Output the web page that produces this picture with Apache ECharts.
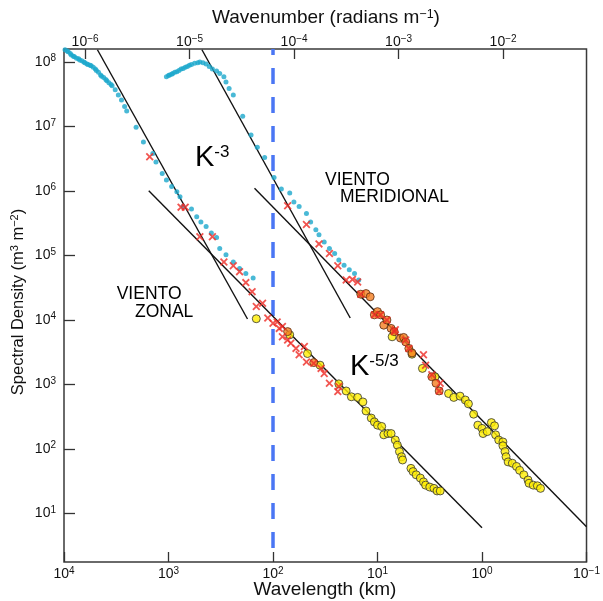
<!DOCTYPE html>
<html>
<head>
<meta charset="utf-8">
<script src="https://cdn.jsdelivr.net/npm/echarts@6/dist/echarts.min.js"></script>
<style>
  html, body { margin: 0; padding: 0; background: #fff; }
  #chart { width: 603px; height: 601px; }
</style>
</head>
<body>
<div id="chart"></div>
<script>
// Horizontal wind spectra. Both coordinates are kept as base-10 exponents:
// wavelength in km, spectral density in m^3 m^-2.

// Zonal wind, large scales (cyan dots)
const zonalDotsLogLambda = [3.99,3.97,3.96,3.94,3.93,3.91,3.90,3.88,3.86,3.85,3.83,3.81,3.80,3.78,3.77,3.75,3.74,3.72,3.70,3.69,3.67,3.65,3.64,3.62,3.60,3.59,3.57,3.55,3.54,3.51,3.48,3.45,3.42,3.40,3.31,3.24,3.15,3.12,3.06,3.02,2.97,2.92,2.89,2.86,2.78,2.73,2.69,2.64,2.59,2.54,2.51,2.45,2.38,2.32,2.26,2.19];
const zonalDotsLogDensity = [8.19,8.17,8.16,8.13,8.11,8.09,8.08,8.06,8.05,8.03,8.02,8.00,7.99,7.97,7.96,7.95,7.94,7.92,7.89,7.87,7.84,7.80,7.78,7.76,7.73,7.71,7.68,7.65,7.63,7.57,7.49,7.41,7.31,7.24,6.99,6.76,6.58,6.45,6.27,6.17,6.07,5.99,5.91,5.76,5.72,5.60,5.52,5.45,5.35,5.28,5.11,5.01,4.90,4.80,4.72,4.65];

// Zonal wind, crosses
const zonalCrossLogLambda = [3.18,2.88,2.84,2.70,2.58,2.47,2.38,2.32,2.26,2.20,2.16,2.10,2.05,2.00,1.96,1.94,1.91,1.91,1.86,1.83,1.78,1.75,1.70,1.68,1.61,1.54,1.51,1.46,1.38,1.37];
const zonalCrossLogDensity = [6.53,5.75,5.75,5.29,5.29,4.90,4.84,4.75,4.58,4.44,4.21,4.26,4.03,3.95,3.97,3.87,3.90,3.74,3.69,3.64,3.56,3.46,3.59,3.35,3.33,3.25,3.17,3.02,2.89,2.97];

// Zonal wind, circles
const zonalCircleLogLambda = [2.16,1.84,1.67,1.55,1.37,1.30,1.25,1.19,1.14,1.11,1.06,1.03,1.00,0.96,0.94,0.90,0.87,0.83,0.81,0.79,0.77,0.76,0.68,0.66,0.63,0.59,0.56,0.54,0.50,0.46,0.43,0.40];
const zonalCircleLogDensity = [4.02,3.77,3.48,3.30,3.01,2.90,2.81,2.80,2.73,2.59,2.48,2.42,2.37,2.35,2.22,2.24,2.24,2.14,2.06,1.96,1.88,1.83,1.70,1.65,1.60,1.55,1.49,1.44,1.41,1.39,1.35,1.35];
const zonalOrangeLogLambda = [1.86,1.61];
const zonalOrangeLogDensity = [3.82,3.34];

// Meridional wind, large scales (cyan dots)
const meridDotsLogLambda = [3.02,3.00,2.99,2.97,2.96,2.94,2.92,2.90,2.88,2.86,2.84,2.82,2.80,2.78,2.75,2.72,2.70,2.67,2.64,2.61,2.58,2.54,2.51,2.47,2.45,2.42,2.38,2.29,2.21,2.15,2.08,1.99,1.92,1.84,1.80,1.75,1.68,1.64,1.59,1.56,1.51,1.46,1.41,1.37,1.32,1.27,1.22,1.18];
const meridDotsLogDensity = [7.77,7.79,7.80,7.81,7.82,7.84,7.85,7.87,7.89,7.90,7.92,7.93,7.95,7.96,7.98,7.99,8.00,7.99,7.97,7.93,7.89,7.86,7.82,7.77,7.69,7.59,7.49,7.16,6.87,6.68,6.52,6.21,6.03,5.97,5.83,5.76,5.65,5.52,5.40,5.32,5.21,5.11,5.03,4.93,4.85,4.78,4.72,4.62];

// Meridional wind, crosses
const meridCrossLogLambda = [1.86,1.68,1.56,1.46,1.38,1.30,1.24,1.19,1.16,1.03,0.97,0.91,0.84,0.83,0.73,0.70,0.56,0.54,0.48,0.40,0.41];
const meridCrossLogDensity = [5.77,5.48,5.18,5.03,4.84,4.62,4.63,4.59,4.40,4.08,4.08,4.00,3.82,3.85,3.69,3.56,3.46,3.30,3.15,3.02,2.90];

// Meridional wind, orange circles
const meridOrangeLogLambda = [1.16,1.11,1.07,1.03,1.00,0.97,0.94,0.91,0.87,0.84,0.78,0.75,0.73,0.70,0.67,0.48,0.44,0.41];
const meridOrangeLogDensity = [4.40,4.41,4.36,4.08,4.13,4.08,3.92,4.00,3.87,3.82,3.72,3.73,3.66,3.56,3.49,3.12,3.02,2.90];

// Meridional wind, yellow circles
const meridCircleLogLambda = [0.86,0.67,0.57,0.45,0.32,0.27,0.21,0.16,0.13,0.08,0.04,0.00,-0.01,-0.05,-0.09,-0.12,-0.13,-0.16,-0.20,-0.20,-0.22,-0.23,-0.25,-0.29,-0.33,-0.36,-0.40,-0.44,-0.45,-0.49,-0.53,-0.56];
const meridCircleLogDensity = [3.74,3.47,3.25,3.12,2.86,2.80,2.82,2.76,2.70,2.54,2.37,2.32,2.24,2.27,2.41,2.36,2.22,2.14,2.11,2.05,1.96,1.88,1.80,1.78,1.73,1.67,1.60,1.52,1.47,1.44,1.43,1.39];

// Reference power laws: [logLambda, logDensity] at each end
const zonalK3 = [[3.68, 8.19], [2.244, 4.016]];
const zonalK53 = [[3.189, 6.005], [0, 0.78]];
const meridK3 = [[2.68, 8.19], [1.261, 4.031]];
const meridK53 = [[2.177, 6.042], [-1, 0.795]];

// 100 km divider
const dividerLogLambda = 2;

// Axis tick exponents
const wavenumberTicks = [-6, -5, -4, -3, -2];
const densityTicks = [1, 2, 3, 4, 5, 6, 7, 8];

const lambdaRange = [-1, 4];
const densityRange = [0.2484, 8.2016];

const zip = (a, b) => a.map((v, i) => [v, b[i]]);
// wavenumber (rad/m) = 2*pi / wavelength(m)
const kExp = (lamExp) => Math.log10(2 * Math.PI / (Math.pow(10, lamExp) * 1000));

const FONT = 'Liberation Sans, Arial, Helvetica, sans-serif';
const expText = (v) => {
  const n = Math.round(v);
  return '{b|10}{s|' + (n < 0 ? '\u2212' + (-n) : n) + '}';
};
const tickRich = {
  b: { fontSize: 14, fontFamily: FONT, color: '#111' },
  s: { fontSize: 10, fontFamily: FONT, color: '#111', verticalAlign: 'top', padding: [0, 0, 7, 0] }
};
const tickStyle = { color: '#333', width: 1.3 };
const noLine = { show: false, onZero: false };

const crossPath = 'path://M0,1.6L1.6,0L5,3.4L8.4,0L10,1.6L6.6,5L10,8.4L8.4,10L5,6.6L1.6,10L0,8.4L3.4,5Z';

const chart = echarts.init(document.getElementById('chart'), null, { renderer: 'canvas' });

const lineSeries = (data) => ({
  type: 'line', data, symbol: 'none', silent: true, z: 2,
  lineStyle: { color: '#111', width: 1.4 }
});

chart.setOption({
  animation: false,
  backgroundColor: '#fff',
  grid: { left: 64, top: 49, width: 524, height: 513, show: true, borderColor: '#3a3a3a', borderWidth: 1.5 },
  xAxis: [
    {
      type: 'value', position: 'bottom', min: lambdaRange[0], max: lambdaRange[1], interval: 1, inverse: true,
      axisLine: noLine, splitLine: { show: false },
      axisTick: { inside: true, length: 10, lineStyle: tickStyle },
      axisLabel: { formatter: expText, rich: tickRich, margin: 4 }
    },
    {
      type: 'value', position: 'top', min: kExp(lambdaRange[1]), max: kExp(lambdaRange[0]),
      axisLine: noLine, splitLine: { show: false },
      axisTick: { inside: true, length: 10, lineStyle: tickStyle, customValues: wavenumberTicks },
      axisLabel: { formatter: expText, rich: tickRich, margin: -2, customValues: wavenumberTicks }
    }
  ],
  yAxis: {
    type: 'value', position: 'left', min: densityRange[0], max: densityRange[1],
    axisLine: noLine, splitLine: { show: false },
    axisTick: { inside: true, length: 11, lineStyle: tickStyle, customValues: densityTicks },
    axisLabel: { formatter: expText, rich: tickRich, margin: 8, customValues: densityTicks }
  },
  series: [
    lineSeries(zonalK3), lineSeries(zonalK53), lineSeries(meridK3), lineSeries(meridK53),
    {
      type: 'line', silent: true, symbol: 'none', z: 1,
      data: [[dividerLogLambda, densityRange[1]], [dividerLogLambda, 0.403]],
      lineStyle: { color: '#4a76f4', width: 3.5, type: [16, 13], dashOffset: 10 }
    },
    {
      type: 'scatter', silent: true, z: 3, symbol: 'circle', symbolSize: 5,
      itemStyle: { color: '#1ca8cc' },
      data: zip(zonalDotsLogLambda, zonalDotsLogDensity).concat(zip(meridDotsLogLambda, meridDotsLogDensity))
    },
    {
      type: 'scatter', silent: true, z: 4, symbol: 'circle', symbolSize: 8,
      itemStyle: { color: '#ffee00', borderColor: '#333', borderWidth: 1 },
      data: zip(zonalCircleLogLambda, zonalCircleLogDensity).concat(zip(meridCircleLogLambda, meridCircleLogDensity))
    },
    {
      type: 'scatter', silent: true, z: 5, symbol: 'circle', symbolSize: 8,
      itemStyle: { color: '#f47e20', borderColor: '#5a2a10', borderWidth: 1 },
      data: zip(zonalOrangeLogLambda, zonalOrangeLogDensity).concat(zip(meridOrangeLogLambda, meridOrangeLogDensity))
    },
    {
      type: 'scatter', silent: true, z: 6, symbol: crossPath, symbolSize: 8,
      itemStyle: { color: '#ee2b24' },
      data: zip(zonalCrossLogLambda, zonalCrossLogDensity).concat(zip(meridCrossLogLambda, meridCrossLogDensity))
    }
  ],
  graphic: [
    {
      type: 'text', x: 326, y: 18,
      style: {
        text: '{t|Wavenumber (radians m}{s|\u22121}{t|)}', textAlign: 'center', textVerticalAlign: 'middle',
        rich: {
          t: { fontSize: 19, fontFamily: FONT, fill: '#111' },
          s: { fontSize: 12.5, fontFamily: FONT, fill: '#111', verticalAlign: 'top', padding: [0, 0, 6, 0] }
        }
      }
    },
    {
      type: 'text', x: 325, y: 590,
      style: { text: 'Wavelength (km)', fontSize: 19, fontFamily: FONT, fill: '#111', textAlign: 'center', textVerticalAlign: 'middle' }
    },
    {
      type: 'text', x: 18, y: 302, rotation: Math.PI / 2,
      style: {
        text: '{t|Spectral Density (m}{s|3}{t| m}{s|\u22122}{t|)}', textAlign: 'center', textVerticalAlign: 'middle',
        rich: {
          t: { fontSize: 16.5, fontFamily: FONT, fill: '#111' },
          s: { fontSize: 11, fontFamily: FONT, fill: '#111', verticalAlign: 'top', padding: [0, 0, 6, 0] }
        }
      }
    },
    {
      type: 'text', x: 195, y: 158,
      style: {
        text: '{k|K}{s|-3}', textAlign: 'left', textVerticalAlign: 'middle',
        rich: {
          k: { fontSize: 29, fontFamily: FONT, fill: '#000' },
          s: { fontSize: 17, fontFamily: FONT, fill: '#000', verticalAlign: 'top' }
        }
      }
    },
    {
      type: 'text', x: 350, y: 367,
      style: {
        text: '{k|K}{s|-5/3}', textAlign: 'left', textVerticalAlign: 'middle',
        rich: {
          k: { fontSize: 29, fontFamily: FONT, fill: '#000' },
          s: { fontSize: 17, fontFamily: FONT, fill: '#000', verticalAlign: 'top' }
        }
      }
    },
    { type: 'text', x: 325, y: 180, style: { text: 'VIENTO', fontSize: 17.5, fontFamily: FONT, fill: '#000', textAlign: 'left', textVerticalAlign: 'middle' } },
    { type: 'text', x: 340, y: 197.5, style: { text: 'MERIDIONAL', fontSize: 17.5, fontFamily: FONT, fill: '#000', textAlign: 'left', textVerticalAlign: 'middle' } },
    { type: 'text', x: 116.7, y: 294.2, style: { text: 'VIENTO', fontSize: 17.5, fontFamily: FONT, fill: '#000', textAlign: 'left', textVerticalAlign: 'middle' } },
    { type: 'text', x: 135, y: 312.5, style: { text: 'ZONAL', fontSize: 17.5, fontFamily: FONT, fill: '#000', textAlign: 'left', textVerticalAlign: 'middle' } }
  ]
});
</script>
</body>
</html>
